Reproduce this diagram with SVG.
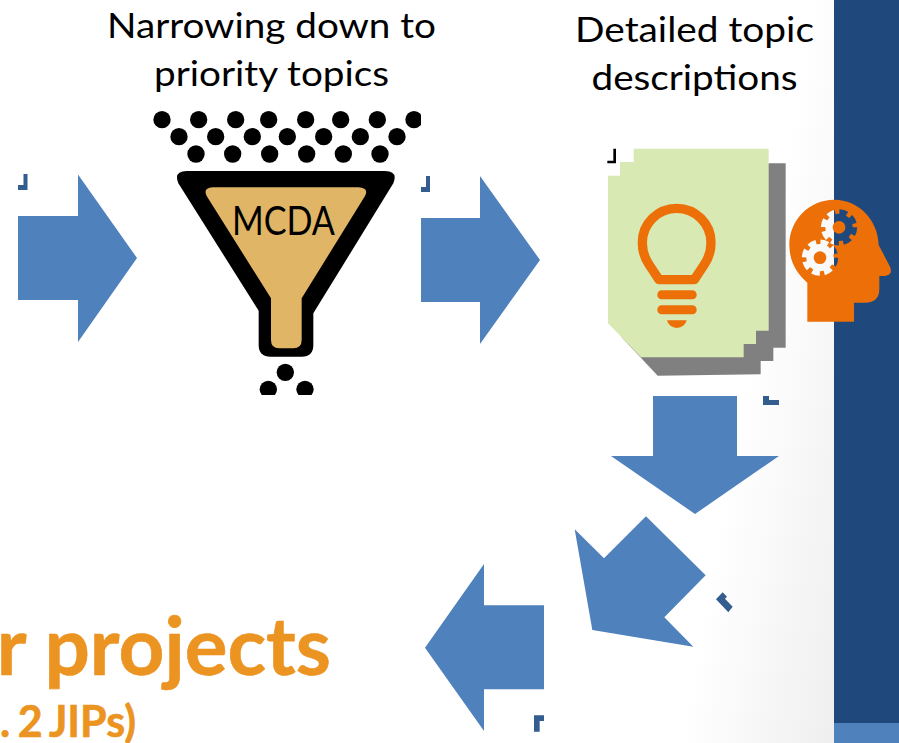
<svg xmlns="http://www.w3.org/2000/svg" width="899" height="743" viewBox="0 0 899 743">
<style>
.arrow{fill:#4F81BD}
.mark{fill:#335C8F}
.head{font-family:"Lato","Liberation Sans",sans-serif;font-size:35px;fill:#000;text-anchor:middle}
.or{font-family:"Lato","Liberation Sans",sans-serif;font-weight:700;fill:#EB9422;text-anchor:end;stroke:#EB9422;stroke-width:.6px}
.dot{fill:#000}
.ico{fill:#EC6F07}
</style>
<defs>
<linearGradient id="bg" gradientUnits="userSpaceOnUse" x1="680" y1="743" x2="825.600" y2="769.200">
<stop offset="0" stop-color="#fff"/><stop offset="1" stop-color="#EFEFEF"/>
</linearGradient>
<clipPath id="dots"><rect x="0" y="0" width="843" height="885"/></clipPath>
<mask id="gears" maskUnits="userSpaceOnUse" x="580" y="190" width="340" height="400">
<rect x="580" y="190" width="340" height="400" fill="#fff"/>
<g fill="#000">
<circle cx="747" cy="292" r="41"/><circle cx="747" cy="292" r="46" fill="none" stroke="#000" stroke-width="17" stroke-dasharray="23 13.130"/>
<circle cx="690" cy="383" r="41"/><circle cx="690" cy="383" r="46" fill="none" stroke="#000" stroke-width="17" stroke-dasharray="23 13.130"/>
</g>
<circle cx="747" cy="292" r="19" fill="#fff"/><circle cx="690" cy="383" r="19" fill="#fff"/>
</mask>
</defs>
<rect id="background" width="899" height="743" fill="url(#bg)"/>
<g id="side-panel">
<rect x="834" width="65" height="723" fill="#1F497D"/>
<rect x="834" y="723" width="65" height="20" fill="#4F81BD"/>
</g>
<g id="connectors">
<g id="arrow-1"><polygon class="arrow" points="18,216 78,216 78,174.500 137,258 78,342 78,300 18,300"/><polygon class="mark" points="23.500,174 27.500,174 27.500,190 18,190 18,185 23.500,185"/></g>
<g id="arrow-2"><polygon class="arrow" points="421,218 480,218 480,176 540,260 480,344 480,302 421,302"/><polygon class="mark" points="426,176 430,176 430,192 421,192 421,187 426,187"/></g>
<g id="arrow-3"><polygon class="arrow" points="653,396 737,396 737,456 779,456 695,514 611,456 653,456"/><polygon class="mark" points="763,396 769,396 769,400 779,400 779,405 763,405"/></g>
<g id="arrow-4"><g transform="translate(420 500) scale(.33333)"><polygon class="arrow" points="678,49 857,226 733,352 820,440 517,390 464,88 552,175"/><polygon class="mark" points="908,277 921,290 915,296 938,320 925,337 888,298"/></g></g>
<g id="arrow-5"><g transform="translate(420 500) scale(.33333)"><polygon class="arrow" points="15,443 192,192 192,316 372,316 372,568 192,568 192,693"/><polygon class="mark" points="342,646 372,646 372,663 359,663 359,695 342,695"/></g></g>
</g>
<g id="funnel-node">
<text class="head" x="271.500" y="38" textLength="329" lengthAdjust="spacingAndGlyphs">Narrowing down to</text>
<text class="head" x="271.500" y="86" textLength="235" lengthAdjust="spacingAndGlyphs">priority topics</text>
<g transform="translate(140 100) scale(.33333)">
<g clip-path="url(#dots)">
<g class="dot">
<circle cx="66" cy="59" r="26"/><circle cx="176" cy="59" r="26"/><circle cx="287" cy="59" r="26"/><circle cx="386" cy="59" r="26"/><circle cx="497" cy="59" r="26"/><circle cx="602" cy="59" r="26"/><circle cx="712" cy="59" r="26"/><circle cx="822" cy="59" r="26"/>
<circle cx="117" cy="110" r="26"/><circle cx="227" cy="110" r="26"/><circle cx="337" cy="110" r="26"/><circle cx="442" cy="110" r="26"/><circle cx="551" cy="110" r="26"/><circle cx="661" cy="110" r="26"/><circle cx="771" cy="110" r="26"/>
<circle cx="168" cy="162" r="26"/><circle cx="278" cy="162" r="26"/><circle cx="389" cy="162" r="26"/><circle cx="500" cy="162" r="26"/><circle cx="610" cy="162" r="26"/><circle cx="720" cy="162" r="26"/>
<circle cx="436" cy="817" r="26"/><circle cx="385" cy="868" r="26"/><circle cx="495" cy="868" r="26"/>
</g>
</g>
<path d="M140,213H735Q775,213 760,250L520,640V735Q520,770 485,770H392Q356,770 356,735V632L115,250Q100,213 140,213Z" fill="#000"/>
<path d="M218,262H655Q688,264 675,288L485,595V720Q485,745 460,745H418Q393,745 393,720V595L200,288Q188,264 218,262Z" fill="#E1B566"/>
</g>
<text x="283.500" y="235" text-anchor="middle" font-family="Lato,'Liberation Sans',sans-serif" font-size="40" fill="#000" textLength="103" lengthAdjust="spacingAndGlyphs">MCDA</text>
</g>
<g id="document-node">
<text class="head" x="694.500" y="42" textLength="239" lengthAdjust="spacingAndGlyphs">Detailed topic</text>
<text class="head" x="694.500" y="90" textLength="206" lengthAdjust="spacingAndGlyphs">descriptions</text>
<g transform="translate(590 130) scale(.33333)">
<polygon fill="#808080" points="537,100 587,100 587,653 550,653 550,693 512,693 512,733 203,737 95,622 300,300"/>
<polygon fill="#D8E9B4" points="131,56 536,56 536,602 498,602 498,642 461,642 461,682 153,682 54,580 54,137 90,137 90,96 131,96"/>
<polygon fill="#000" points="70,56 78,56 78,100 52,100 52,92 70,92"/>
<path d="M207,449L178,405Q157,375 157,338A103,103 0 0 1 363,338Q363,375 342,405L313,449Z" fill="none" stroke="#EC6F07" stroke-width="28" stroke-linejoin="round"/>
<rect class="ico" x="202" y="481" width="118" height="27" rx="13"/>
<rect class="ico" x="202" y="526" width="118" height="27" rx="13"/>
<path class="ico" d="M231,571H290A30,28 0 0 1 231,571Z"/>
</g>
</g>
<g id="head-node">
<g transform="translate(590 130) scale(.33333)">
<path class="ico" mask="url(#gears)" d="M652,575V458C620,430 598,395 598,345C598,270 658,209 733,209C805,209 865,270 866,345L900,410Q910,435 885,438H868V478Q868,518 825,518H792V575Z"/>
</g>
</g>
<g id="title-text">
<text class="or" x="331" y="675" font-size="80">r projects</text>
<text class="or" x="136" y="737" font-size="43" word-spacing="-3">. 2 JIPs)</text>
</g>
</svg>
